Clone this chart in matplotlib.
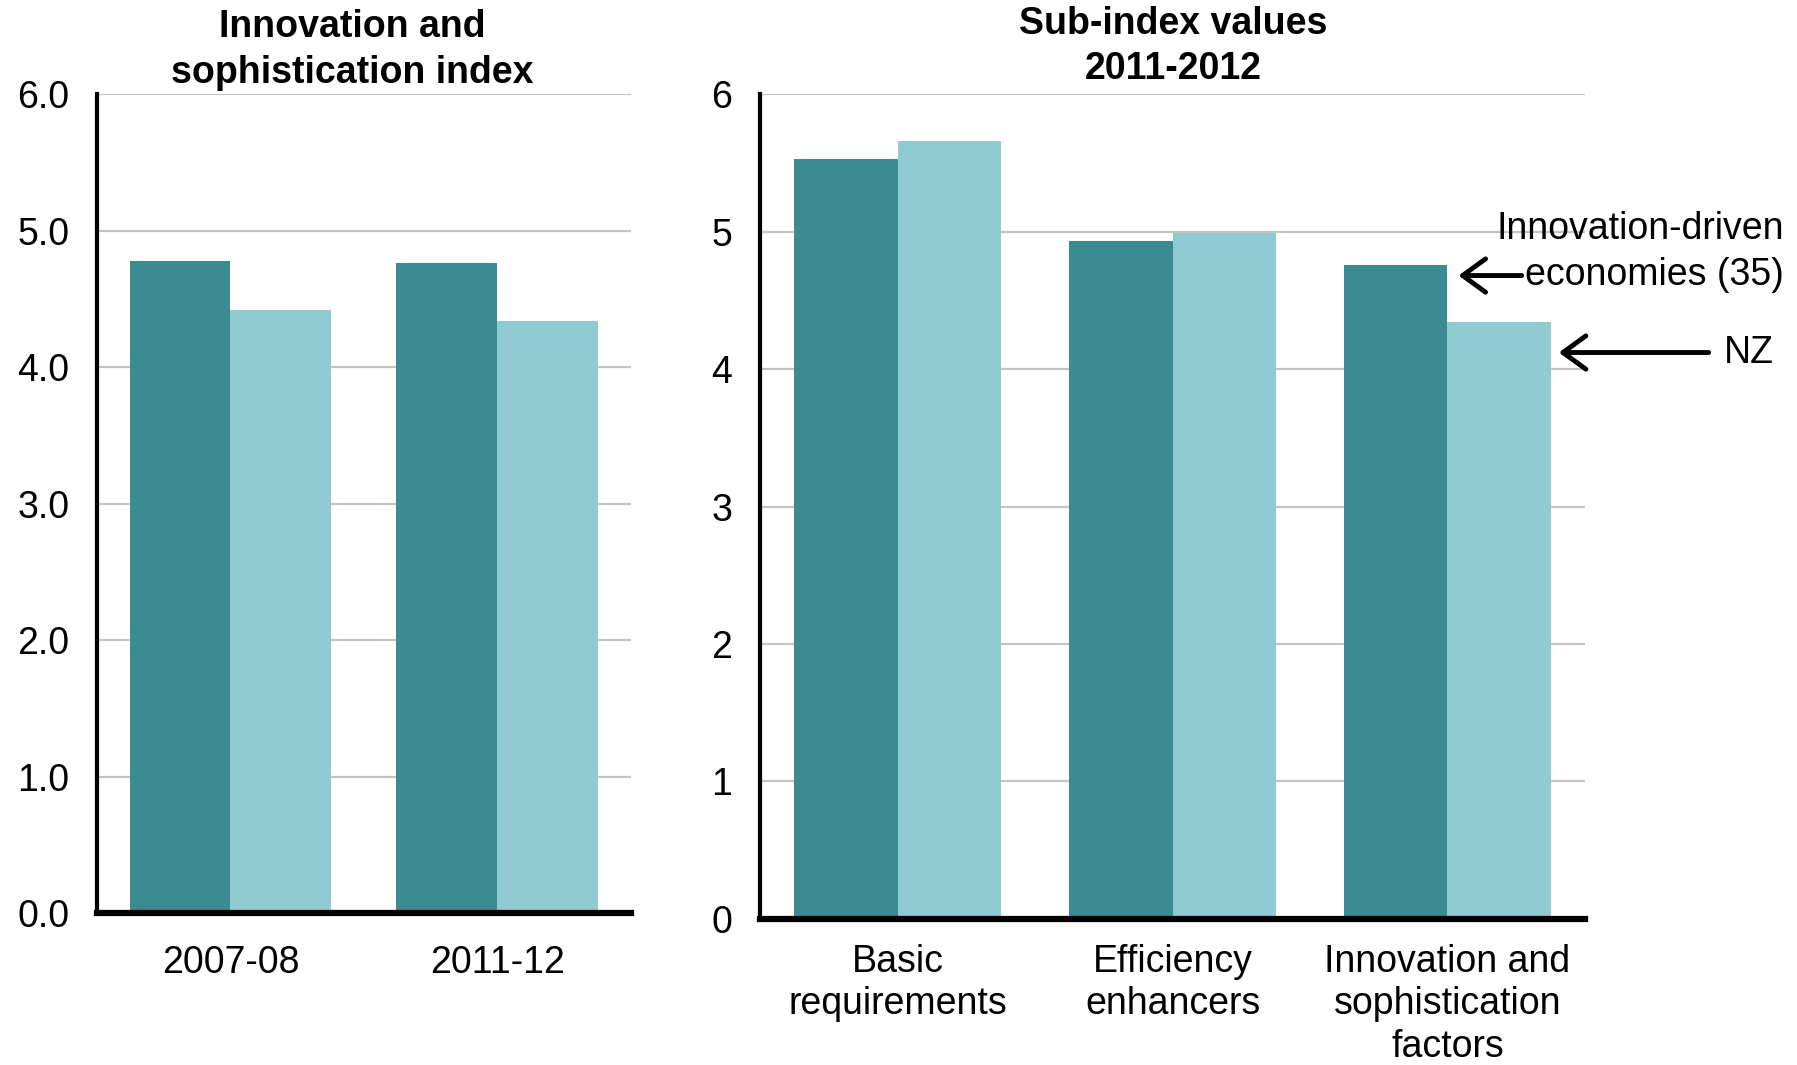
import matplotlib.pyplot as plt
import numpy as np

plt.rcParams['font.family'] = ['Liberation Sans', 'DejaVu Sans']

# Data
years = ['2007-08', '2011-12']
idx_innovation_driven = [4.78, 4.76]
idx_nz = [4.42, 4.34]

subindex_labels = ['Basic\nrequirements', 'Efficiency\nenhancers',
                   'Innovation and\nsophistication\nfactors']
sub_innovation_driven = [5.53, 4.93, 4.76]
sub_nz = [5.66, 4.99, 4.34]

DARK = '#3B8B93'
LIGHT = '#90CBD3'
GRID = '#C4C4C4'
FS = 27


def style_axis(ax, yticks, ylabels, xpad):
    ax.set_ylim(0, 6)
    ax.set_yticks(yticks)
    ax.set_yticklabels(ylabels)
    ax.yaxis.grid(True, color=GRID, linewidth=1.6)
    ax.set_axisbelow(True)
    for side in ['top', 'right']:
        ax.spines[side].set_visible(False)
    ax.spines['left'].set_linewidth(3)
    ax.spines['bottom'].set_linewidth(4.5)
    ax.tick_params(axis='both', length=0, labelsize=FS)
    ax.tick_params(axis='y', pad=20)
    ax.tick_params(axis='x', pad=xpad)


fig = plt.figure(figsize=(17.97, 10.65), dpi=100)

# Left panel
ax1 = fig.add_axes([0.054, 0.1427, 0.297, 0.769])
x1 = np.arange(len(years))
w1 = 0.378
ax1.bar(x1 - w1 / 2, idx_innovation_driven, w1, color=DARK)
ax1.bar(x1 + w1 / 2, idx_nz, w1, color=LIGHT)
ax1.set_xlim(-0.5, 1.5)
ax1.set_xticks(x1)
ax1.set_xticklabels(years)
style_axis(ax1, [0, 1, 2, 3, 4, 5, 6],
           ['0.0', '1.0', '2.0', '3.0', '4.0', '5.0', '6.0'], 23)
fig.text(0.196, 0.953, 'Innovation and\nsophistication index', ha='center',
         va='center', fontsize=FS, fontweight='bold', linespacing=1.36)

# Right panel
ax2 = fig.add_axes([0.423, 0.1371, 0.459, 0.7746])
x2 = np.arange(len(subindex_labels))
w2 = 0.375
ax2.bar(x2 - w2 / 2, sub_innovation_driven, w2, color=DARK)
ax2.bar(x2 + w2 / 2, sub_nz, w2, color=LIGHT)
ax2.set_xlim(-0.5, 2.5)
ax2.set_xticks(x2)
ax2.set_xticklabels(subindex_labels, linespacing=1.23)
style_axis(ax2, [0, 1, 2, 3, 4, 5, 6], ['0', '1', '2', '3', '4', '5', '6'], 18)
fig.text(0.653, 0.956, 'Sub-index values\n2011-2012', ha='center',
         va='center', fontsize=FS, fontweight='bold', linespacing=1.33)

# Arrow annotations
arrow = dict(arrowstyle='->, head_length=0.55, head_width=0.4',
             color='black', lw=3.5, mutation_scale=30)
ax2.annotate('', xy=(x2[-1] + 0.03, sub_innovation_driven[-1] - 0.08),
             xytext=(x2[-1] + 0.28, sub_innovation_driven[-1] - 0.08),
             arrowprops=arrow, annotation_clip=False)
ax2.text(3.225, 4.85, 'Innovation-driven\neconomies (35)', ha='right',
         va='center', fontsize=FS, linespacing=1.36)
ax2.annotate('', xy=(x2[-1] + w2 + 0.02, sub_nz[-1] - 0.22),
             xytext=(x2[-1] + w2 + 0.585, sub_nz[-1] - 0.22),
             arrowprops=arrow, annotation_clip=False)
ax2.text(3.185, sub_nz[-1] - 0.22, 'NZ', ha='right', va='center', fontsize=FS)

fig.savefig('out.png', dpi=100)
